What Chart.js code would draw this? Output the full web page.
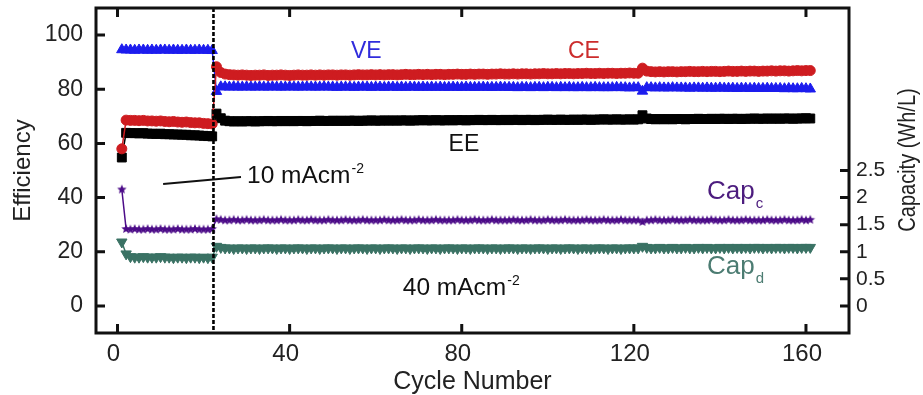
<!DOCTYPE html>
<html><head><meta charset="utf-8">
<script src="https://cdn.jsdelivr.net/npm/chart.js@4.4.1/dist/chart.umd.min.js"></script>
<style>html,body{margin:0;padding:0;background:#fff}canvas{display:block}</style>
</head><body>
<canvas id="c" width="923" height="395"></canvas>
<script>
// ---------- data ----------
const cycles = [
1,2,3,4,5,6,7,8,9,10,11,12,13,14,15,16,17,18,19,20,
21,22,23,24,25,26,27,28,29,30,31,32,33,34,35,36,37,38,39,40,
41,42,43,44,45,46,47,48,49,50,51,52,53,54,55,56,57,58,59,60,
61,62,63,64,65,66,67,68,69,70,71,72,73,74,75,76,77,78,79,80,
81,82,83,84,85,86,87,88,89,90,91,92,93,94,95,96,97,98,99,100,
101,102,103,104,105,106,107,108,109,110,111,112,113,114,115,116,117,118,119,120,
121,122,123,124,125,126,127,128,129,130,131,132,133,134,135,136,137,138,139,140,
141,142,143,144,145,146,147,148,149,150,151,152,153,154,155,156,157,158,159,160,161];

// Coulombic efficiency (%)
const CE = [58.0,
68.6,68.5,68.5,68.4,68.5,68.3,68.3,68.2,68.3,68.1,68.0,68.1,67.9,67.8,67.9,67.7,67.6,67.6,67.4,67.3,67.2,
88.3,86.2,85.6,85.4,85.3,85.2,85.3,85.2,85.1,85.2,
85.2,85.3,85.1,85.2,85.2,85.3,85.2,85.1,85.2,85.3,
85.2,85.2,85.3,85.2,85.3,85.2,85.3,85.3,85.2,85.3,
85.3,85.2,85.3,85.4,85.3,85.3,85.4,85.3,85.4,85.3,
85.4,85.4,85.3,85.4,85.5,85.4,85.4,85.5,85.4,85.5,
85.4,85.5,85.5,85.4,85.5,85.5,85.6,85.5,85.5,85.6,
85.5,85.6,85.6,85.5,85.6,85.6,85.7,85.6,85.6,85.7,
85.6,85.7,85.7,85.6,85.7,85.7,85.8,85.7,85.7,85.8,
85.7,85.8,85.8,85.7,85.8,85.8,85.9,85.8,85.8,85.9,
85.8,85.9,85.9,85.8,85.9,85.9,86.0,85.9,85.9,
87.8,
86.7,86.5,86.4,86.5,86.4,86.5,86.5,86.4,86.5,86.5,
86.6,86.5,86.5,86.6,86.5,86.6,86.6,86.5,86.6,86.7,
86.6,86.6,86.7,86.6,86.7,86.7,86.6,86.7,86.7,86.8,
86.7,86.8,86.8,86.7,86.8,86.9,86.8,86.9,86.9];

// Voltage efficiency (%)
const VE = [
94.6,94.5,94.5,94.4,94.5,94.5,94.4,94.5,94.4,94.5,94.5,94.4,94.5,94.4,94.4,94.5,94.4,94.4,94.5,94.4,94.4,94.3,
79.2,
80.9,80.9,80.8,80.9,80.8,80.8,80.9,80.8,80.8,80.9,
80.8,80.8,80.9,80.8,80.8,80.8,80.9,80.8,80.8,80.8,
80.9,80.8,80.8,80.8,80.9,80.8,80.8,80.7,80.8,80.8,
80.8,80.7,80.8,80.8,80.8,80.7,80.8,80.8,80.7,80.8,
80.8,80.7,80.8,80.7,80.8,80.8,80.7,80.8,80.7,80.8,
80.7,80.8,80.7,80.7,80.8,80.7,80.7,80.8,80.7,80.7,
80.7,80.8,80.7,80.7,80.7,80.8,80.7,80.7,80.7,80.6,
80.7,80.7,80.6,80.7,80.7,80.6,80.7,80.7,80.6,80.7,
80.6,80.7,80.6,80.6,80.7,80.6,80.6,80.7,80.6,80.6,
80.6,80.6,80.7,80.6,80.6,80.5,80.6,80.6,
79.3,
80.6,80.6,80.5,80.6,80.5,80.5,80.6,80.5,80.5,80.5,
80.4,80.5,80.5,80.4,80.5,80.4,80.4,80.5,80.4,80.4,
80.4,80.3,80.4,80.4,80.3,80.4,80.3,80.3,80.4,80.3,
80.3,80.3,80.2,80.3,80.2,80.2,80.3,80.2,80.1];

// Energy efficiency (%)
const EE = [54.8,
63.9,63.8,63.8,63.7,63.8,63.6,63.6,63.5,63.6,63.4,63.4,63.3,63.3,63.2,63.2,63.0,63.0,62.9,62.8,62.7,62.6,
71.0,69.3,68.4,
68.2,68.1,68.2,68.1,68.2,68.2,68.1,68.2,68.2,68.3,
68.2,68.2,68.3,68.2,68.3,68.2,68.3,68.3,68.2,68.3,
68.3,68.4,68.3,68.3,68.4,68.3,68.4,68.3,68.4,68.4,
68.3,68.4,68.4,68.5,68.4,68.4,68.5,68.4,68.5,68.4,
68.5,68.5,68.4,68.5,68.5,68.6,68.5,68.5,68.6,68.5,
68.5,68.6,68.5,68.6,68.6,68.5,68.6,68.6,68.7,68.6,
68.6,68.7,68.6,68.6,68.7,68.6,68.7,68.7,68.6,68.7,
68.7,68.6,68.7,68.7,68.8,68.7,68.7,68.8,68.7,68.7,
68.8,68.7,68.8,68.8,68.7,68.8,68.8,68.9,68.8,68.8,
68.9,68.8,68.8,68.9,68.8,68.9,
70.4,
69.2,69.0,68.9,69.0,68.9,69.0,68.9,69.0,69.0,68.9,
69.0,69.0,69.1,69.0,69.0,69.1,69.0,69.1,69.1,69.0,
69.1,69.1,69.0,69.1,69.1,69.2,69.1,69.1,69.2,69.1,
69.2,69.1,69.2,69.2,69.1,69.2,69.2,69.3,69.2];

// Charge capacity (Wh/L)
const capCharge = [2.15,
1.42,1.41,1.42,1.41,1.41,1.42,1.41,1.41,1.42,1.41,1.41,1.41,1.42,1.41,1.41,1.41,1.42,1.41,1.41,1.41,1.42,
1.60,1.59,1.58,1.58,1.59,1.58,1.58,1.59,1.58,1.58,
1.58,1.59,1.58,1.58,1.58,1.59,1.58,1.58,1.58,1.59,
1.58,1.58,1.59,1.58,1.58,1.58,1.59,1.58,1.58,1.58,
1.59,1.58,1.58,1.58,1.59,1.58,1.58,1.58,1.58,1.59,
1.58,1.58,1.58,1.59,1.58,1.58,1.58,1.59,1.58,1.58,
1.58,1.59,1.58,1.58,1.58,1.58,1.59,1.58,1.58,1.58,
1.59,1.58,1.58,1.58,1.59,1.58,1.58,1.58,1.58,1.59,
1.58,1.58,1.58,1.59,1.58,1.58,1.58,1.59,1.58,1.58,
1.58,1.59,1.58,1.58,1.58,1.58,1.59,1.58,1.58,1.58,
1.59,1.58,1.58,1.58,1.59,1.58,1.58,1.58,1.58,
1.55,
1.58,1.58,1.59,1.58,1.58,1.58,1.59,1.58,1.58,1.58,
1.59,1.58,1.58,1.58,1.58,1.59,1.58,1.58,1.58,1.59,
1.58,1.58,1.58,1.59,1.58,1.58,1.58,1.58,1.59,1.58,
1.58,1.58,1.59,1.58,1.58,1.58,1.59,1.58,1.59];

// Discharge capacity (Wh/L)
const capDischarge = [1.18,
0.96,0.91,0.90,0.90,0.91,0.90,0.90,0.90,0.91,0.90,0.90,0.89,0.90,0.90,0.89,0.90,0.90,0.89,0.90,0.89,0.90,
1.10,1.08,1.07,1.07,1.06,1.07,1.07,1.06,1.07,1.07,
1.06,1.07,1.07,1.07,1.06,1.07,1.07,1.06,1.07,1.07,
1.07,1.06,1.07,1.07,1.06,1.07,1.07,1.07,1.06,1.07,
1.07,1.06,1.07,1.07,1.07,1.06,1.07,1.07,1.06,1.07,
1.07,1.07,1.06,1.07,1.07,1.06,1.07,1.07,1.07,1.06,
1.07,1.07,1.06,1.07,1.07,1.07,1.06,1.07,1.07,1.06,
1.07,1.07,1.07,1.06,1.07,1.07,1.06,1.07,1.07,1.07,
1.06,1.07,1.07,1.06,1.07,1.07,1.07,1.06,1.07,1.07,
1.06,1.07,1.07,1.07,1.06,1.07,1.07,1.06,1.07,1.07,
1.07,1.06,1.07,1.07,1.06,1.07,1.07,1.07,1.07,
1.10,
1.08,1.07,1.07,1.08,1.07,1.07,1.08,1.07,1.07,1.08,
1.07,1.07,1.08,1.07,1.08,1.07,1.07,1.08,1.07,1.08,
1.07,1.08,1.07,1.08,1.07,1.08,1.08,1.07,1.08,1.07,
1.08,1.08,1.07,1.08,1.08,1.07,1.08,1.08,1.08];

const xTicks = [0, 40, 80, 120, 160];
const effTicks = [0, 20, 40, 60, 80, 100];
const capTicks = [0, 0.5, 1, 1.5, 2, 2.5];
const currentSwitchCycle = 22.3;   // 10 -> 40 mA/cm2

// ---------- styles ----------
const FONT = '"Liberation Sans", Arial, Helvetica, sans-serif';
const colCE = 'rgb(206,28,32)';
const colVE = 'rgb(28,28,238)';
const colEE = '#000000';
const colCapC = 'rgb(76,12,136)';
const colCapD = 'rgb(58,114,100)';

function makeStar(color, R) {
  const s = Math.ceil(R * 2 + 2);
  const c = document.createElement('canvas');
  c.width = s; c.height = s;
  const g = c.getContext('2d');
  g.fillStyle = color;
  g.beginPath();
  for (let i = 0; i < 10; i++) {
    const r = i % 2 ? R * 0.45 : R;
    const a = -Math.PI / 2 + i * Math.PI / 5;
    g.lineTo(s / 2 + r * Math.cos(a), s / 2 + r * Math.sin(a));
  }
  g.closePath(); g.fill();
  return c;
}

const pts = arr => cycles.map((c, i) => ({x: c, y: arr[i]}));

function ds(label, arr, color, style, radius, axis, order, extra) {
  return Object.assign({
    label, data: pts(arr), yAxisID: axis, order,
    showLine: true, borderColor: color, borderWidth: 1.5,
    pointStyle: style, pointRadius: radius,
    pointBackgroundColor: color, pointBorderColor: color, pointBorderWidth: 1
  }, extra || {});
}

function fixBox(w, h) {
  return s => {
    if (w != null) s.width = w;
    if (h != null) s.height = h;
    s.paddingTop = 0; s.paddingBottom = 0; s.paddingLeft = 0; s.paddingRight = 0;
  };
}

const decor = {
  id: 'decor',
  afterDatasetsDraw(chart) {
    const ctx = chart.ctx;
    const a = chart.chartArea;
    const xs = chart.scales.x, ys = chart.scales.y, y2 = chart.scales.y2;
    const X = v => xs.getPixelForValue(v), Y = v => ys.getPixelForValue(v);
    ctx.save();
    // dashed vertical line at current switch
    ctx.strokeStyle = '#000'; ctx.lineWidth = 2.6; ctx.setLineDash([4, 2]);
    ctx.beginPath(); ctx.moveTo(X(currentSwitchCycle), a.top); ctx.lineTo(X(currentSwitchCycle), a.bottom); ctx.stroke();
    ctx.setLineDash([]);
    // frame
    ctx.strokeStyle = '#111'; ctx.lineWidth = 3;
    ctx.strokeRect(a.left, a.top, a.right - a.left, a.bottom - a.top);
    // inward ticks
    const TL = 9;
    ctx.lineWidth = 3;
    ctx.beginPath();
    xTicks.forEach(v => { const px = X(v);
      ctx.moveTo(px, a.bottom); ctx.lineTo(px, a.bottom - TL);
      ctx.moveTo(px, a.top); ctx.lineTo(px, a.top + TL); });
    effTicks.forEach(v => { const py = Y(v);
      ctx.moveTo(a.left, py); ctx.lineTo(a.left + TL, py); });
    capTicks.forEach(v => { const py = y2.getPixelForValue(v);
      ctx.moveTo(a.right, py); ctx.lineTo(a.right - TL, py); });
    ctx.stroke();

    // leader line for 10 mA label
    ctx.lineWidth = 2;
    ctx.beginPath(); ctx.moveTo(X(10.6), Y(45.0)); ctx.lineTo(X(28.7), Y(47.6)); ctx.stroke();

    // annotation text
    ctx.textBaseline = 'middle';
    function txt(s, x, y, size, color, align) {
      ctx.font = size + 'px ' + FONT; ctx.fillStyle = color; ctx.textAlign = align || 'left';
      ctx.fillText(s, x, y);
      return ctx.measureText(s).width;
    }
    txt('VE', X(57.8), Y(93.8), 23, 'rgb(48,44,220)', 'center');
    txt('CE', X(108.4), Y(93.8), 23, 'rgb(204,44,44)', 'center');
    txt('EE', X(80.5), Y(59.4), 23, '#111', 'center');
    let w = txt('10 mAcm', X(30.1), Y(48.0), 24.5, '#111');
    txt('-2', X(30.1) + w + 1, Y(48.0) - 7, 14, '#111');
    w = txt('40 mAcm', X(66.3), Y(6.6), 24.5, '#111');
    txt('-2', X(66.3) + w + 1, Y(6.6) - 7, 14, '#111');
    w = txt('Cap', X(137.0), Y(42.1), 26, 'rgb(76,28,126)');
    txt('c', X(137.0) + w + 1, Y(42.1) + 12, 15, 'rgb(76,28,126)');
    w = txt('Cap', X(137.0), Y(14.5), 26, 'rgb(76,124,114)');
    txt('d', X(137.0) + w + 1, Y(14.5) + 12, 15, 'rgb(76,124,114)');

    // axis titles
    ctx.fillStyle = '#222'; ctx.textAlign = 'center';
    ctx.font = '25px ' + FONT;
    ctx.fillText('Cycle Number', (a.left + a.right) / 2, 382);
    ctx.save(); ctx.translate(23, (a.top + a.bottom) / 2); ctx.rotate(-Math.PI / 2);
    ctx.font = '24px ' + FONT; ctx.fillText('Efficiency', 0, 0); ctx.restore();
    ctx.save(); ctx.translate(909, 160); ctx.rotate(-Math.PI / 2); ctx.scale(1, 1.15);
    ctx.font = '20px ' + FONT; ctx.fillText('Capacity (Wh/L)', 0, 0); ctx.restore();
    ctx.restore();
  }
};

new Chart(document.getElementById('c'), {
  type: 'scatter',
  data: {
    datasets: [
      ds('CE', CE, colCE, 'circle', 5, 'y', 1),
      ds('VE', VE, colVE, 'triangle', 6, 'y', 2),
      ds('EE', EE, colEE, 'rect', 6.3, 'y', 3),
      ds('Capc', capCharge, colCapC, makeStar(colCapC, 5), 5, 'y2', 4),
      ds('Capd', capDischarge, colCapD, 'triangle', 6, 'y2', 5, {pointRotation: 180})
    ]
  },
  options: {
    responsive: false, animation: false,
    layout: {padding: {top: 8, left: 0, right: 0, bottom: 0}},
    plugins: {legend: {display: false}, tooltip: {enabled: false}},
    scales: {
      x: {
        type: 'linear', position: 'bottom', min: -5, max: 170,
        afterBuildTicks: s => { s.ticks = xTicks.map(v => ({value: v})); },
        afterFit: fixBox(null, 62),
        grid: {display: false, drawTicks: false}, border: {display: false},
        ticks: {color: '#222', padding: 7, labelOffset: -4, font: {family: FONT, size: 24}, callback: v => String(v), maxRotation: 0}
      },
      y: {
        type: 'linear', position: 'left', min: -10, max: 110,
        afterBuildTicks: s => { s.ticks = effTicks.map(v => ({value: v})); },
        afterFit: fixBox(96, null),
        grid: {display: false, drawTicks: false}, border: {display: false},
        ticks: {color: '#222', padding: 13, font: {family: FONT, size: 23}, callback: v => String(v)}
      },
      y2: {
        type: 'linear', position: 'right', min: -0.5, max: 5.5,
        afterBuildTicks: s => { s.ticks = capTicks.map(v => ({value: v})); },
        afterFit: fixBox(74, null),
        grid: {display: false, drawTicks: false}, border: {display: false},
        ticks: {color: '#222', padding: 7, font: {family: FONT, size: 21}, callback: v => String(v)}
      }
    }
  },
  plugins: [decor]
});
</script>
</body></html>
